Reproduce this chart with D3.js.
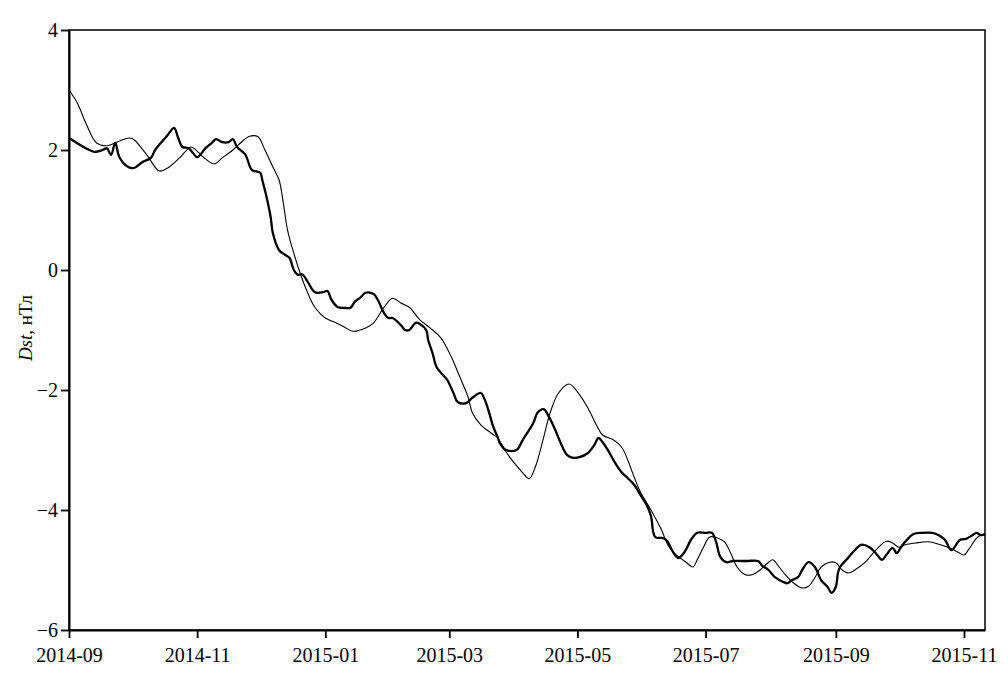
<!DOCTYPE html>
<html>
<head>
<meta charset="utf-8">
<script src="https://cdn.jsdelivr.net/npm/d3@7"></script>
<style>
  html, body { margin: 0; padding: 0; background: #fff; }
  svg { display: block; }
  text { font-family: "Liberation Serif", "Times New Roman", serif; fill: #000; }
</style>
</head>
<body>
<svg id="chart" width="1008" height="681"></svg>
<script>
// ---------- data ----------
const xTickLabels = ["2014-09", "2014-11", "2015-01", "2015-03", "2015-05", "2015-07", "2015-09", "2015-11"];
const yTickValues = [4, 2, 0, -2, -4, -6];
const xDomain = ["2014-09-01", "2015-11-11"];
const yDomain = [-6, 4];
const yLabelItalic = "Dst";
const yLabelRest = ", нТл";

// thick curve
const seriesThick = [
  ["2014-09-01", 2.2], ["2014-09-09", 2.03], ["2014-09-13", 1.97], ["2014-09-17", 2.0], ["2014-09-19", 2.03],
  ["2014-09-21", 1.92], ["2014-09-23", 2.12], ["2014-09-25", 1.88], ["2014-09-29", 1.72], ["2014-10-02", 1.7],
  ["2014-10-06", 1.8], ["2014-10-10", 1.87], ["2014-10-12", 2.0], ["2014-10-16", 2.17], ["2014-10-18", 2.25],
  ["2014-10-21", 2.37], ["2014-10-23", 2.2], ["2014-10-25", 2.05], ["2014-10-28", 2.03], ["2014-10-30", 1.95],
  ["2014-11-01", 1.88], ["2014-11-05", 2.03], ["2014-11-08", 2.12], ["2014-11-10", 2.18], ["2014-11-13", 2.13],
  ["2014-11-16", 2.13], ["2014-11-18", 2.18], ["2014-11-20", 2.05], ["2014-11-24", 1.92], ["2014-11-27", 1.67],
  ["2014-12-01", 1.62], ["2014-12-02", 1.5], ["2014-12-04", 1.22], ["2014-12-06", 0.88], ["2014-12-07", 0.62],
  ["2014-12-10", 0.33], ["2014-12-13", 0.25], ["2014-12-15", 0.2], ["2014-12-17", 0.0], ["2014-12-19", -0.08],
  ["2014-12-21", -0.07], ["2014-12-24", -0.22], ["2014-12-27", -0.37], ["2014-12-31", -0.37], ["2015-01-02", -0.35],
  ["2015-01-04", -0.5], ["2015-01-07", -0.62], ["2015-01-10", -0.63], ["2015-01-13", -0.63], ["2015-01-15", -0.53],
  ["2015-01-18", -0.45], ["2015-01-20", -0.38], ["2015-01-24", -0.4], ["2015-01-26", -0.5], ["2015-01-29", -0.72],
  ["2015-01-31", -0.8], ["2015-02-02", -0.8], ["2015-02-06", -0.92], ["2015-02-08", -1.0], ["2015-02-10", -1.0],
  ["2015-02-13", -0.88], ["2015-02-15", -0.9], ["2015-02-18", -1.0], ["2015-02-19", -1.17], ["2015-02-21", -1.38],
  ["2015-02-23", -1.62], ["2015-02-26", -1.75], ["2015-02-28", -1.83], ["2015-03-03", -2.05], ["2015-03-05", -2.2],
  ["2015-03-09", -2.22], ["2015-03-12", -2.13], ["2015-03-16", -2.05], ["2015-03-18", -2.17], ["2015-03-20", -2.38],
  ["2015-03-22", -2.62], ["2015-03-24", -2.78], ["2015-03-25", -2.88], ["2015-03-28", -3.0], ["2015-04-02", -3.0],
  ["2015-04-05", -2.83], ["2015-04-10", -2.55], ["2015-04-12", -2.38], ["2015-04-15", -2.32], ["2015-04-17", -2.42],
  ["2015-04-20", -2.63], ["2015-04-23", -2.88], ["2015-04-26", -3.08], ["2015-04-29", -3.13], ["2015-05-02", -3.12],
  ["2015-05-06", -3.05], ["2015-05-09", -2.92], ["2015-05-11", -2.8], ["2015-05-13", -2.87], ["2015-05-16", -3.03],
  ["2015-05-19", -3.22], ["2015-05-22", -3.37], ["2015-05-25", -3.47], ["2015-05-28", -3.58], ["2015-05-31", -3.75],
  ["2015-06-03", -3.92], ["2015-06-05", -4.1], ["2015-06-07", -4.45], ["2015-06-11", -4.47], ["2015-06-13", -4.53],
  ["2015-06-15", -4.67], ["2015-06-18", -4.8], ["2015-06-21", -4.7], ["2015-06-24", -4.5], ["2015-06-27", -4.38],
  ["2015-07-01", -4.38], ["2015-07-04", -4.38], ["2015-07-06", -4.53], ["2015-07-08", -4.78], ["2015-07-11", -4.87],
  ["2015-07-14", -4.85], ["2015-07-18", -4.85], ["2015-07-21", -4.85], ["2015-07-26", -4.85], ["2015-07-28", -4.93],
  ["2015-07-31", -5.0], ["2015-08-03", -5.12], ["2015-08-07", -5.2], ["2015-08-09", -5.22], ["2015-08-11", -5.17],
  ["2015-08-14", -5.12], ["2015-08-16", -5.0], ["2015-08-19", -4.87], ["2015-08-22", -4.95], ["2015-08-25", -5.17],
  ["2015-08-28", -5.28], ["2015-08-30", -5.38], ["2015-09-01", -5.28], ["2015-09-02", -5.05], ["2015-09-03", -4.95],
  ["2015-09-06", -4.83], ["2015-09-10", -4.67], ["2015-09-13", -4.58], ["2015-09-17", -4.62], ["2015-09-20", -4.72],
  ["2015-09-23", -4.83], ["2015-09-25", -4.75], ["2015-09-28", -4.63], ["2015-09-30", -4.72], ["2015-10-02", -4.62],
  ["2015-10-04", -4.53], ["2015-10-08", -4.4], ["2015-10-12", -4.38], ["2015-10-17", -4.38], ["2015-10-20", -4.42],
  ["2015-10-23", -4.5], ["2015-10-26", -4.67], ["2015-10-30", -4.5], ["2015-11-02", -4.48], ["2015-11-05", -4.42],
  ["2015-11-07", -4.38], ["2015-11-09", -4.42], ["2015-11-11", -4.4]
];

// thin curve
const seriesThin = [
  ["2014-09-01", 3.0], ["2014-09-05", 2.78], ["2014-09-09", 2.45], ["2014-09-14", 2.12], ["2014-09-19", 2.07],
  ["2014-09-23", 2.12], ["2014-09-25", 2.15], ["2014-09-30", 2.2], ["2014-10-02", 2.17], ["2014-10-08", 1.92],
  ["2014-10-14", 1.65], ["2014-10-18", 1.7], ["2014-10-24", 1.88], ["2014-10-29", 2.05], ["2014-11-01", 1.98],
  ["2014-11-04", 1.88], ["2014-11-09", 1.77], ["2014-11-13", 1.87], ["2014-11-18", 2.0], ["2014-11-22", 2.13],
  ["2014-11-26", 2.23], ["2014-11-30", 2.22], ["2014-12-03", 2.02], ["2014-12-07", 1.72], ["2014-12-10", 1.5],
  ["2014-12-12", 1.12], ["2014-12-14", 0.67], ["2014-12-17", 0.28], ["2014-12-20", -0.05], ["2014-12-23", -0.33],
  ["2014-12-27", -0.62], ["2015-01-01", -0.8], ["2015-01-06", -0.88], ["2015-01-10", -0.95], ["2015-01-14", -1.02],
  ["2015-01-20", -0.97], ["2015-01-24", -0.88], ["2015-01-29", -0.62], ["2015-02-02", -0.47], ["2015-02-06", -0.55],
  ["2015-02-10", -0.62], ["2015-02-15", -0.83], ["2015-02-20", -0.97], ["2015-02-25", -1.13], ["2015-03-02", -1.45],
  ["2015-03-06", -1.78], ["2015-03-10", -2.12], ["2015-03-12", -2.38], ["2015-03-16", -2.58], ["2015-03-21", -2.72],
  ["2015-03-24", -2.8], ["2015-03-28", -3.03], ["2015-04-01", -3.22], ["2015-04-05", -3.38], ["2015-04-08", -3.48],
  ["2015-04-11", -3.28], ["2015-04-15", -2.78], ["2015-04-18", -2.38], ["2015-04-22", -2.05], ["2015-04-27", -1.9],
  ["2015-05-01", -2.03], ["2015-05-06", -2.3], ["2015-05-10", -2.58], ["2015-05-13", -2.75], ["2015-05-18", -2.83],
  ["2015-05-22", -2.95], ["2015-05-25", -3.17], ["2015-05-28", -3.45], ["2015-05-31", -3.7], ["2015-06-05", -4.0],
  ["2015-06-10", -4.33], ["2015-06-13", -4.58], ["2015-06-16", -4.72], ["2015-06-19", -4.8], ["2015-06-22", -4.88],
  ["2015-06-25", -4.95], ["2015-06-27", -4.83], ["2015-06-30", -4.62], ["2015-07-03", -4.45], ["2015-07-07", -4.47],
  ["2015-07-10", -4.53], ["2015-07-13", -4.72], ["2015-07-16", -4.95], ["2015-07-20", -5.08], ["2015-07-23", -5.08],
  ["2015-07-27", -5.0], ["2015-07-31", -4.87], ["2015-08-02", -4.83], ["2015-08-05", -4.95], ["2015-08-08", -5.08],
  ["2015-08-12", -5.22], ["2015-08-16", -5.3], ["2015-08-19", -5.27], ["2015-08-22", -5.13], ["2015-08-25", -4.95],
  ["2015-08-29", -4.87], ["2015-09-01", -4.88], ["2015-09-04", -5.0], ["2015-09-07", -5.05], ["2015-09-10", -5.0],
  ["2015-09-15", -4.87], ["2015-09-20", -4.67], ["2015-09-25", -4.52], ["2015-09-28", -4.55], ["2015-10-01", -4.62],
  ["2015-10-04", -4.58], ["2015-10-09", -4.55], ["2015-10-15", -4.53], ["2015-10-20", -4.57], ["2015-10-25", -4.63],
  ["2015-10-29", -4.7], ["2015-11-01", -4.75], ["2015-11-03", -4.67], ["2015-11-07", -4.47], ["2015-11-09", -4.42],
  ["2015-11-11", -4.42]
];

// ---------- drawing ----------
const parse = d3.timeParse("%Y-%m-%d");
const parseMonth = d3.timeParse("%Y-%m");
const svg = d3.select("#chart");
const m = { left: 69, right: 985, top: 30, bottom: 630 };

const x = d3.scaleTime().domain(xDomain.map(parse)).range([m.left, m.right]);
const y = d3.scaleLinear().domain(yDomain).range([m.bottom, m.top]);

const fmtNum = d => (d < 0 ? "\u2212" + Math.abs(d) : String(d));

// frame (top and right)
svg.append("rect")
  .attr("x", m.left).attr("y", m.top)
  .attr("width", m.right - m.left).attr("height", m.bottom - m.top)
  .attr("fill", "none").attr("stroke", "#000").attr("stroke-width", 1.5);

// x axis
const xAxis = d3.axisBottom(x)
  .tickValues(xTickLabels.map(parseMonth))
  .tickFormat(d3.timeFormat("%Y-%m"))
  .tickSizeInner(8).tickSizeOuter(0).tickPadding(10);
const gx = svg.append("g").attr("transform", `translate(0,${m.bottom})`).call(xAxis);
gx.select(".domain").attr("stroke-width", 2);
gx.selectAll(".tick line").attr("stroke-width", 1.8);
gx.selectAll(".tick text").attr("font-size", 20).attr("font-family", "Liberation Serif");

// y axis
const yAxis = d3.axisLeft(y)
  .tickValues(yTickValues)
  .tickFormat(fmtNum)
  .tickSizeInner(8).tickSizeOuter(0).tickPadding(3);
const gy = svg.append("g").attr("transform", `translate(${m.left},0)`).call(yAxis);
gy.select(".domain").attr("stroke-width", 2);
gy.selectAll(".tick line").attr("stroke-width", 1.8);
gy.selectAll(".tick text").attr("font-size", 20).attr("font-family", "Liberation Serif");

// y label
const yl = svg.append("text")
  .attr("transform", `translate(32,${(m.top + m.bottom) / 2 - 2}) rotate(-90)`)
  .attr("text-anchor", "middle")
  .attr("font-size", 19);
yl.append("tspan").attr("font-style", "italic").text(yLabelItalic);
yl.append("tspan").text(yLabelRest);

// lines
const line = d3.line()
  .x(d => x(parse(d[0])))
  .y(d => y(d[1]))
  .curve(d3.curveCatmullRom.alpha(0.5));

svg.append("path").datum(seriesThin)
  .attr("d", line).attr("fill", "none")
  .attr("stroke", "#000").attr("stroke-width", 1.1);

svg.append("path").datum(seriesThick)
  .attr("d", line).attr("fill", "none")
  .attr("stroke", "#000").attr("stroke-width", 2.3).attr("stroke-linejoin", "round");
</script>
</body>
</html>
